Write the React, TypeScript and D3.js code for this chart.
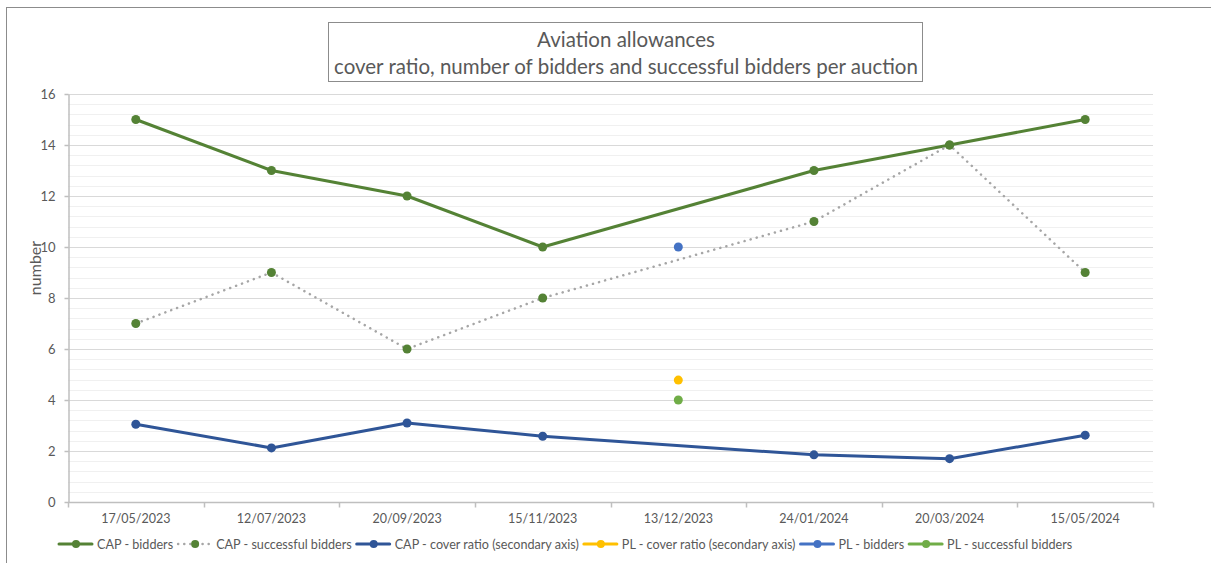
import React, { useRef, useEffect } from "react";
import * as d3 from "d3";

// auction dates (categories)
const auctions = [
  "17/05/2023",
  "12/07/2023",
  "20/09/2023",
  "15/11/2023",
  "13/12/2023",
  "24/01/2024",
  "20/03/2024",
  "15/05/2024",
];

// CAP auctions (no CAP auction on 13/12/2023)
const capBidders = [15, 13, 12, 10, null, 13, 14, 15];
const capSuccessful = [7, 9, 6, 8, null, 11, 14, 9];
const capCoverRatio = [3.05, 2.12, 3.1, 2.58, null, 1.85, 1.7, 2.62];

// PL auction (only 13/12/2023)
const plCoverRatio = [null, null, null, null, 4.78, null, null, null];
const plBidders = [null, null, null, null, 10, null, null, null];
const plSuccessful = [null, null, null, null, 4, null, null, null];

const yTicks = [0, 2, 4, 6, 8, 10, 12, 14, 16];

const FONT = "Lato, 'Liberation Sans', sans-serif";
const TEXT = "#595959";

type Series = {
  name: string;
  values: (number | null)[];
  color: string;
  marker: string;
  dotted?: boolean;
  secondary?: boolean;
};

const series: Series[] = [
  { name: "CAP - bidders", values: capBidders, color: "#548235", marker: "#548235" },
  { name: "CAP - successful bidders", values: capSuccessful, color: "#A6A6A6", marker: "#548235", dotted: true },
  { name: "CAP - cover ratio (secondary axis)", values: capCoverRatio, color: "#2F5597", marker: "#2F5597", secondary: true },
  { name: "PL - cover ratio (secondary axis)", values: plCoverRatio, color: "#FFC000", marker: "#FFC000", secondary: true },
  { name: "PL - bidders", values: plBidders, color: "#4472C4", marker: "#4472C4" },
  { name: "PL - successful bidders", values: plSuccessful, color: "#70AD47", marker: "#70AD47" },
];

const App = () => {
  const svgRef = useRef<SVGSVGElement>(null);

  useEffect(() => {
    const svg = d3.select(svgRef.current);
    svg.selectAll("*").remove();

    const W = 1211;
    const H = 563;
    const margin = { top: 94, right: 58, bottom: 61, left: 68 };

    // outer chart frame (only left and top edges are visible)
    svg
      .append("rect")
      .attr("x", 6.5)
      .attr("y", 7.5)
      .attr("width", W + 20)
      .attr("height", H + 20)
      .attr("fill", "white")
      .attr("stroke", "#8c8c8c")
      .attr("stroke-width", 1);

    const x = d3
      .scaleBand()
      .domain(auctions)
      .range([margin.left, W - margin.right]);
    const cx = (d: string) => (x(d) as number) + x.bandwidth() / 2;

    const y = d3.scaleLinear().domain([0, 16]).range([H - margin.bottom, margin.top]);
    // secondary axis is hidden and shares the same range
    const y2 = d3.scaleLinear().domain([0, 16]).range([H - margin.bottom, margin.top]);

    // minor gridlines
    svg
      .append("g")
      .selectAll("line")
      .data(d3.range(0, 16.001, 0.4))
      .join("line")
      .attr("x1", margin.left)
      .attr("x2", W - margin.right)
      .attr("y1", (d) => Math.round(y(d)) + 0.5)
      .attr("y2", (d) => Math.round(y(d)) + 0.5)
      .attr("stroke", "#F0F0F0");

    // major gridlines
    svg
      .append("g")
      .selectAll("line")
      .data(yTicks)
      .join("line")
      .attr("x1", margin.left)
      .attr("x2", W - margin.right)
      .attr("y1", (d) => Math.round(y(d)) + 0.5)
      .attr("y2", (d) => Math.round(y(d)) + 0.5)
      .attr("stroke", "#D9D9D9");

    // y axis
    const yAxis = svg
      .append("g")
      .attr("transform", `translate(${margin.left + 0.5},0)`)
      .call(d3.axisLeft(y).tickValues(yTicks).tickSize(4).tickPadding(9).tickSizeOuter(0));
    yAxis.select(".domain").attr("stroke", "#BFBFBF").attr("stroke-width", 1.5);
    yAxis.selectAll(".tick line").attr("stroke", "#BFBFBF").attr("stroke-width", 1.5);
    yAxis
      .selectAll(".tick text")
      .attr("fill", TEXT)
      .style("font-family", FONT)
      .style("font-size", "13px");

    // x axis
    const xBase = Math.round(y(0)) + 0.5;
    svg
      .append("line")
      .attr("x1", margin.left)
      .attr("x2", W - margin.right)
      .attr("y1", xBase)
      .attr("y2", xBase)
      .attr("stroke", "#BFBFBF")
      .attr("stroke-width", 1.5);
    const bounds = auctions.map((d) => x(d) as number).concat([W - margin.right]);
    svg
      .append("g")
      .selectAll("line")
      .data(bounds)
      .join("line")
      .attr("x1", (d) => Math.round(d) + 0.5)
      .attr("x2", (d) => Math.round(d) + 0.5)
      .attr("y1", xBase)
      .attr("y2", xBase + 5)
      .attr("stroke", "#BFBFBF")
      .attr("stroke-width", 1.5);
    svg
      .append("g")
      .selectAll("text")
      .data(auctions)
      .join("text")
      .attr("x", cx)
      .attr("y", xBase + 20)
      .attr("text-anchor", "middle")
      .attr("fill", TEXT)
      .style("font-family", FONT)
      .style("font-size", "12.5px")
      .text((d) => d);

    // y axis title
    svg
      .append("text")
      .attr("transform", `translate(41,${(y(0) + y(16)) / 2 - 30}) rotate(-90)`)
      .attr("text-anchor", "middle")
      .attr("fill", TEXT)
      .style("font-family", FONT)
      .style("font-size", "16px")
      .text("number");

    // series lines and markers
    series.forEach((s) => {
      const sc = s.secondary ? y2 : y;
      const pts = auctions
        .map((d, i) => ({ d, v: s.values[i] }))
        .filter((p) => p.v !== null) as { d: string; v: number }[];
      const line = d3
        .line<{ d: string; v: number }>()
        .x((p) => cx(p.d))
        .y((p) => sc(p.v));
      if (pts.length > 1) {
        svg
          .append("path")
          .datum(pts)
          .attr("fill", "none")
          .attr("stroke", s.color)
          .attr("stroke-width", s.dotted ? 2.5 : 3)
          .attr("stroke-linecap", "round")
          .attr("stroke-linejoin", "round")
          .attr("stroke-dasharray", s.dotted ? "0.1 6.2" : null)
          .attr("d", line);
      }
      svg
        .append("g")
        .selectAll("circle")
        .data(pts)
        .join("circle")
        .attr("cx", (p) => cx(p.d))
        .attr("cy", (p) => sc(p.v))
        .attr("r", 4.5)
        .attr("fill", s.marker);
    });

    // title box
    const titleBox = svg.append("g");
    titleBox
      .append("rect")
      .attr("x", 328.5)
      .attr("y", 22.5)
      .attr("width", 594)
      .attr("height", 59)
      .attr("fill", "white")
      .attr("stroke", "#8c8c8c");
    const title = titleBox
      .append("text")
      .attr("text-anchor", "middle")
      .attr("fill", TEXT)
      .style("font-family", FONT)
      .style("font-size", "20.5px");
    title.append("tspan").attr("x", 626).attr("y", 47).text("Aviation allowances");
    title
      .append("tspan")
      .attr("x", 626)
      .attr("y", 74)
      .text("cover ratio, number of bidders and successful bidders per auction");

    // legend
    const legend = svg.append("g").attr("transform", "translate(59,544)");
    let lx = 0;
    series.forEach((s) => {
      const item = legend.append("g").attr("transform", `translate(${lx},0)`);
      item
        .append("line")
        .attr("x1", 0)
        .attr("x2", 33)
        .attr("y1", 0)
        .attr("y2", 0)
        .attr("stroke", s.color)
        .attr("stroke-width", s.dotted ? 2.5 : 3)
        .attr("stroke-linecap", "round")
        .attr("stroke-dasharray", s.dotted ? "0.1 6" : null);
      item.append("circle").attr("cx", 17).attr("cy", 0).attr("r", 4).attr("fill", s.marker);
      const t = item
        .append("text")
        .attr("x", 38)
        .attr("y", 4.5)
        .attr("fill", TEXT)
        .style("font-family", FONT)
        .style("font-size", "12.6px")
        .text(s.name);
      const w = (t.node() as SVGTextElement).getComputedTextLength();
      lx += 38 + w + 5;
    });
  }, []);

  return (
    <svg
      ref={svgRef}
      width={1211}
      height={563}
      style={{ position: "absolute", left: 0, top: 0 }}
    ></svg>
  );
};

export default App;
